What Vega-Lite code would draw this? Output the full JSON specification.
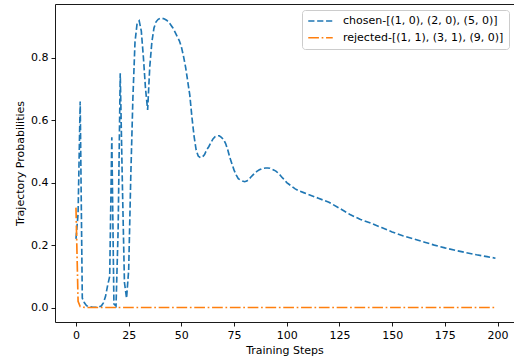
{
  "$schema": "https://vega.github.io/schema/vega-lite/v6.json",
  "width": 459,
  "height": 318,
  "autosize": {"type": "none"},
  "padding": {"left": 55, "top": 4, "right": 0, "bottom": 40},
  "background": "white",
  "config": {
    "font": "DejaVu Sans",
    "view": {"stroke": null},
    "axis": {
      "domainColor": "#000",
      "domainWidth": 0.9,
      "tickColor": "#000",
      "tickWidth": 0.9,
      "tickSize": 4,
      "labelColor": "#000",
      "labelFontSize": 11,
      "labelFont": "DejaVu Sans",
      "titleFont": "DejaVu Sans",
      "titleFontSize": 11,
      "titleFontWeight": "normal",
      "titleColor": "#000",
      "grid": false,
      "labelPadding": 3
    }
  },
  "datasets": {
    "d": [
      {"step": 0, "series": "chosen-[(1, 0), (2, 0), (5, 0)]", "p": 0.22},
      {"step": 1, "series": "chosen-[(1, 0), (2, 0), (5, 0)]", "p": 0.30},
      {"step": 2, "series": "chosen-[(1, 0), (2, 0), (5, 0)]", "p": 0.66},
      {"step": 3, "series": "chosen-[(1, 0), (2, 0), (5, 0)]", "p": 0.03},
      {"step": 4, "series": "chosen-[(1, 0), (2, 0), (5, 0)]", "p": 0.015},
      {"step": 5, "series": "chosen-[(1, 0), (2, 0), (5, 0)]", "p": 0.006},
      {"step": 6, "series": "chosen-[(1, 0), (2, 0), (5, 0)]", "p": 0.003},
      {"step": 7, "series": "chosen-[(1, 0), (2, 0), (5, 0)]", "p": 0.002},
      {"step": 8, "series": "chosen-[(1, 0), (2, 0), (5, 0)]", "p": 0.001},
      {"step": 9, "series": "chosen-[(1, 0), (2, 0), (5, 0)]", "p": 0.001},
      {"step": 10, "series": "chosen-[(1, 0), (2, 0), (5, 0)]", "p": 0.001},
      {"step": 11, "series": "chosen-[(1, 0), (2, 0), (5, 0)]", "p": 0.002},
      {"step": 12, "series": "chosen-[(1, 0), (2, 0), (5, 0)]", "p": 0.005},
      {"step": 13, "series": "chosen-[(1, 0), (2, 0), (5, 0)]", "p": 0.015},
      {"step": 14, "series": "chosen-[(1, 0), (2, 0), (5, 0)]", "p": 0.035},
      {"step": 15, "series": "chosen-[(1, 0), (2, 0), (5, 0)]", "p": 0.07},
      {"step": 16, "series": "chosen-[(1, 0), (2, 0), (5, 0)]", "p": 0.10},
      {"step": 17, "series": "chosen-[(1, 0), (2, 0), (5, 0)]", "p": 0.545},
      {"step": 18, "series": "chosen-[(1, 0), (2, 0), (5, 0)]", "p": 0.012},
      {"step": 19, "series": "chosen-[(1, 0), (2, 0), (5, 0)]", "p": 0.005},
      {"step": 20, "series": "chosen-[(1, 0), (2, 0), (5, 0)]", "p": 0.25},
      {"step": 21, "series": "chosen-[(1, 0), (2, 0), (5, 0)]", "p": 0.75},
      {"step": 22, "series": "chosen-[(1, 0), (2, 0), (5, 0)]", "p": 0.40},
      {"step": 23, "series": "chosen-[(1, 0), (2, 0), (5, 0)]", "p": 0.08},
      {"step": 24, "series": "chosen-[(1, 0), (2, 0), (5, 0)]", "p": 0.03},
      {"step": 25, "series": "chosen-[(1, 0), (2, 0), (5, 0)]", "p": 0.12},
      {"step": 26, "series": "chosen-[(1, 0), (2, 0), (5, 0)]", "p": 0.42},
      {"step": 27, "series": "chosen-[(1, 0), (2, 0), (5, 0)]", "p": 0.67},
      {"step": 28, "series": "chosen-[(1, 0), (2, 0), (5, 0)]", "p": 0.85},
      {"step": 29, "series": "chosen-[(1, 0), (2, 0), (5, 0)]", "p": 0.91},
      {"step": 30, "series": "chosen-[(1, 0), (2, 0), (5, 0)]", "p": 0.918},
      {"step": 31, "series": "chosen-[(1, 0), (2, 0), (5, 0)]", "p": 0.885},
      {"step": 32, "series": "chosen-[(1, 0), (2, 0), (5, 0)]", "p": 0.80},
      {"step": 33, "series": "chosen-[(1, 0), (2, 0), (5, 0)]", "p": 0.70},
      {"step": 34, "series": "chosen-[(1, 0), (2, 0), (5, 0)]", "p": 0.633},
      {"step": 35, "series": "chosen-[(1, 0), (2, 0), (5, 0)]", "p": 0.77},
      {"step": 36, "series": "chosen-[(1, 0), (2, 0), (5, 0)]", "p": 0.85},
      {"step": 37, "series": "chosen-[(1, 0), (2, 0), (5, 0)]", "p": 0.895},
      {"step": 38, "series": "chosen-[(1, 0), (2, 0), (5, 0)]", "p": 0.915},
      {"step": 39, "series": "chosen-[(1, 0), (2, 0), (5, 0)]", "p": 0.923},
      {"step": 40, "series": "chosen-[(1, 0), (2, 0), (5, 0)]", "p": 0.926},
      {"step": 41, "series": "chosen-[(1, 0), (2, 0), (5, 0)]", "p": 0.926},
      {"step": 42, "series": "chosen-[(1, 0), (2, 0), (5, 0)]", "p": 0.924},
      {"step": 43, "series": "chosen-[(1, 0), (2, 0), (5, 0)]", "p": 0.92},
      {"step": 44, "series": "chosen-[(1, 0), (2, 0), (5, 0)]", "p": 0.914},
      {"step": 45, "series": "chosen-[(1, 0), (2, 0), (5, 0)]", "p": 0.905},
      {"step": 46, "series": "chosen-[(1, 0), (2, 0), (5, 0)]", "p": 0.895},
      {"step": 47, "series": "chosen-[(1, 0), (2, 0), (5, 0)]", "p": 0.882},
      {"step": 48, "series": "chosen-[(1, 0), (2, 0), (5, 0)]", "p": 0.868},
      {"step": 49, "series": "chosen-[(1, 0), (2, 0), (5, 0)]", "p": 0.855},
      {"step": 50, "series": "chosen-[(1, 0), (2, 0), (5, 0)]", "p": 0.835},
      {"step": 51, "series": "chosen-[(1, 0), (2, 0), (5, 0)]", "p": 0.805},
      {"step": 52, "series": "chosen-[(1, 0), (2, 0), (5, 0)]", "p": 0.77},
      {"step": 53, "series": "chosen-[(1, 0), (2, 0), (5, 0)]", "p": 0.725},
      {"step": 54, "series": "chosen-[(1, 0), (2, 0), (5, 0)]", "p": 0.68},
      {"step": 55, "series": "chosen-[(1, 0), (2, 0), (5, 0)]", "p": 0.61},
      {"step": 56, "series": "chosen-[(1, 0), (2, 0), (5, 0)]", "p": 0.55},
      {"step": 57, "series": "chosen-[(1, 0), (2, 0), (5, 0)]", "p": 0.505},
      {"step": 58, "series": "chosen-[(1, 0), (2, 0), (5, 0)]", "p": 0.485},
      {"step": 59, "series": "chosen-[(1, 0), (2, 0), (5, 0)]", "p": 0.48},
      {"step": 60, "series": "chosen-[(1, 0), (2, 0), (5, 0)]", "p": 0.482},
      {"step": 61, "series": "chosen-[(1, 0), (2, 0), (5, 0)]", "p": 0.49},
      {"step": 62, "series": "chosen-[(1, 0), (2, 0), (5, 0)]", "p": 0.505},
      {"step": 63, "series": "chosen-[(1, 0), (2, 0), (5, 0)]", "p": 0.515},
      {"step": 64, "series": "chosen-[(1, 0), (2, 0), (5, 0)]", "p": 0.528},
      {"step": 65, "series": "chosen-[(1, 0), (2, 0), (5, 0)]", "p": 0.54},
      {"step": 66, "series": "chosen-[(1, 0), (2, 0), (5, 0)]", "p": 0.547},
      {"step": 67, "series": "chosen-[(1, 0), (2, 0), (5, 0)]", "p": 0.55},
      {"step": 68, "series": "chosen-[(1, 0), (2, 0), (5, 0)]", "p": 0.55},
      {"step": 69, "series": "chosen-[(1, 0), (2, 0), (5, 0)]", "p": 0.545},
      {"step": 70, "series": "chosen-[(1, 0), (2, 0), (5, 0)]", "p": 0.538},
      {"step": 71, "series": "chosen-[(1, 0), (2, 0), (5, 0)]", "p": 0.525},
      {"step": 72, "series": "chosen-[(1, 0), (2, 0), (5, 0)]", "p": 0.505},
      {"step": 73, "series": "chosen-[(1, 0), (2, 0), (5, 0)]", "p": 0.48},
      {"step": 74, "series": "chosen-[(1, 0), (2, 0), (5, 0)]", "p": 0.46},
      {"step": 75, "series": "chosen-[(1, 0), (2, 0), (5, 0)]", "p": 0.44},
      {"step": 76, "series": "chosen-[(1, 0), (2, 0), (5, 0)]", "p": 0.425},
      {"step": 77, "series": "chosen-[(1, 0), (2, 0), (5, 0)]", "p": 0.413},
      {"step": 78, "series": "chosen-[(1, 0), (2, 0), (5, 0)]", "p": 0.408},
      {"step": 79, "series": "chosen-[(1, 0), (2, 0), (5, 0)]", "p": 0.405},
      {"step": 80, "series": "chosen-[(1, 0), (2, 0), (5, 0)]", "p": 0.403},
      {"step": 81, "series": "chosen-[(1, 0), (2, 0), (5, 0)]", "p": 0.405},
      {"step": 82, "series": "chosen-[(1, 0), (2, 0), (5, 0)]", "p": 0.41},
      {"step": 83, "series": "chosen-[(1, 0), (2, 0), (5, 0)]", "p": 0.418},
      {"step": 84, "series": "chosen-[(1, 0), (2, 0), (5, 0)]", "p": 0.425},
      {"step": 85, "series": "chosen-[(1, 0), (2, 0), (5, 0)]", "p": 0.432},
      {"step": 86, "series": "chosen-[(1, 0), (2, 0), (5, 0)]", "p": 0.437},
      {"step": 87, "series": "chosen-[(1, 0), (2, 0), (5, 0)]", "p": 0.441},
      {"step": 88, "series": "chosen-[(1, 0), (2, 0), (5, 0)]", "p": 0.444},
      {"step": 89, "series": "chosen-[(1, 0), (2, 0), (5, 0)]", "p": 0.446},
      {"step": 90, "series": "chosen-[(1, 0), (2, 0), (5, 0)]", "p": 0.447},
      {"step": 91, "series": "chosen-[(1, 0), (2, 0), (5, 0)]", "p": 0.447},
      {"step": 92, "series": "chosen-[(1, 0), (2, 0), (5, 0)]", "p": 0.446},
      {"step": 93, "series": "chosen-[(1, 0), (2, 0), (5, 0)]", "p": 0.443},
      {"step": 94, "series": "chosen-[(1, 0), (2, 0), (5, 0)]", "p": 0.44},
      {"step": 95, "series": "chosen-[(1, 0), (2, 0), (5, 0)]", "p": 0.436},
      {"step": 96, "series": "chosen-[(1, 0), (2, 0), (5, 0)]", "p": 0.43},
      {"step": 97, "series": "chosen-[(1, 0), (2, 0), (5, 0)]", "p": 0.423},
      {"step": 98, "series": "chosen-[(1, 0), (2, 0), (5, 0)]", "p": 0.415},
      {"step": 99, "series": "chosen-[(1, 0), (2, 0), (5, 0)]", "p": 0.408},
      {"step": 100, "series": "chosen-[(1, 0), (2, 0), (5, 0)]", "p": 0.40},
      {"step": 102, "series": "chosen-[(1, 0), (2, 0), (5, 0)]", "p": 0.39},
      {"step": 104, "series": "chosen-[(1, 0), (2, 0), (5, 0)]", "p": 0.38},
      {"step": 106, "series": "chosen-[(1, 0), (2, 0), (5, 0)]", "p": 0.373},
      {"step": 108, "series": "chosen-[(1, 0), (2, 0), (5, 0)]", "p": 0.368},
      {"step": 110, "series": "chosen-[(1, 0), (2, 0), (5, 0)]", "p": 0.363},
      {"step": 115, "series": "chosen-[(1, 0), (2, 0), (5, 0)]", "p": 0.35},
      {"step": 120, "series": "chosen-[(1, 0), (2, 0), (5, 0)]", "p": 0.337},
      {"step": 125, "series": "chosen-[(1, 0), (2, 0), (5, 0)]", "p": 0.318},
      {"step": 130, "series": "chosen-[(1, 0), (2, 0), (5, 0)]", "p": 0.298},
      {"step": 135, "series": "chosen-[(1, 0), (2, 0), (5, 0)]", "p": 0.282},
      {"step": 140, "series": "chosen-[(1, 0), (2, 0), (5, 0)]", "p": 0.27},
      {"step": 145, "series": "chosen-[(1, 0), (2, 0), (5, 0)]", "p": 0.256},
      {"step": 150, "series": "chosen-[(1, 0), (2, 0), (5, 0)]", "p": 0.242},
      {"step": 155, "series": "chosen-[(1, 0), (2, 0), (5, 0)]", "p": 0.23},
      {"step": 160, "series": "chosen-[(1, 0), (2, 0), (5, 0)]", "p": 0.22},
      {"step": 165, "series": "chosen-[(1, 0), (2, 0), (5, 0)]", "p": 0.21},
      {"step": 170, "series": "chosen-[(1, 0), (2, 0), (5, 0)]", "p": 0.20},
      {"step": 175, "series": "chosen-[(1, 0), (2, 0), (5, 0)]", "p": 0.191},
      {"step": 180, "series": "chosen-[(1, 0), (2, 0), (5, 0)]", "p": 0.183},
      {"step": 185, "series": "chosen-[(1, 0), (2, 0), (5, 0)]", "p": 0.176},
      {"step": 190, "series": "chosen-[(1, 0), (2, 0), (5, 0)]", "p": 0.169},
      {"step": 195, "series": "chosen-[(1, 0), (2, 0), (5, 0)]", "p": 0.163},
      {"step": 199, "series": "chosen-[(1, 0), (2, 0), (5, 0)]", "p": 0.158},
      {"step": 0, "series": "rejected-[(1, 1), (3, 1), (9, 0)]", "p": 0.32},
      {"step": 1, "series": "rejected-[(1, 1), (3, 1), (9, 0)]", "p": 0.02},
      {"step": 2, "series": "rejected-[(1, 1), (3, 1), (9, 0)]", "p": 0.003},
      {"step": 3, "series": "rejected-[(1, 1), (3, 1), (9, 0)]", "p": 0.001},
      {"step": 5, "series": "rejected-[(1, 1), (3, 1), (9, 0)]", "p": 0.0},
      {"step": 50, "series": "rejected-[(1, 1), (3, 1), (9, 0)]", "p": 0.0},
      {"step": 100, "series": "rejected-[(1, 1), (3, 1), (9, 0)]", "p": 0.0},
      {"step": 150, "series": "rejected-[(1, 1), (3, 1), (9, 0)]", "p": 0.0},
      {"step": 199, "series": "rejected-[(1, 1), (3, 1), (9, 0)]", "p": 0.0}
    ]
  },
  "data": {"name": "d"},
  "resolve": {"axis": {"x": "independent"}},
  "layer": [
    {
      "mark": {"type": "line", "strokeWidth": 1.65, "clip": true},
      "encoding": {
        "x": {
          "field": "step", "type": "quantitative",
          "scale": {"domain": [-9.95, 207.8], "nice": false, "zero": false},
          "axis": {"values": [0, 25, 50, 75, 100, 125, 150, 175, 200], "format": "d", "title": "Training Steps", "titlePadding": 4}
        },
        "y": {
          "field": "p", "type": "quantitative",
          "scale": {"domain": [-0.0463, 0.972], "nice": false, "zero": false},
          "axis": {"values": [0, 0.2, 0.4, 0.6, 0.8], "format": ".1f", "title": "Trajectory Probabilities", "titlePadding": 5}
        },
        "color": {
          "field": "series", "type": "nominal",
          "scale": {"range": ["#1f77b4", "#ff7f0e"]},
          "legend": {
            "title": null,
            "orient": "none",
            "legendX": 247,
            "legendY": 6,
            "symbolType": "stroke",
            "symbolSize": 600,
            "symbolStrokeWidth": 1.65,
            "labelFontSize": 11,
            "labelFont": "DejaVu Sans",
            "labelColor": "#000",
            "labelOffset": 9,
            "labelLimit": 300,
            "clipHeight": 12,
            "rowPadding": 4.7,
            "padding": 5,
            "strokeColor": "#cccccc",
            "fillColor": "rgba(255,255,255,0.8)",
            "cornerRadius": 3
          }
        },
        "strokeDash": {
          "field": "series", "type": "nominal",
          "scale": {"range": [[6.2, 2.7], [10.7, 2.7, 1.7, 2.7]]},
          "legend": null
        }
      }
    },
    {
      "mark": {"type": "point", "opacity": 0},
      "encoding": {
        "x": {
          "field": "step", "type": "quantitative",
          "axis": {"orient": "top", "labels": false, "ticks": false, "title": null, "domain": true}
        },
        "y": {"field": "p", "type": "quantitative"}
      }
    }
  ]
}
